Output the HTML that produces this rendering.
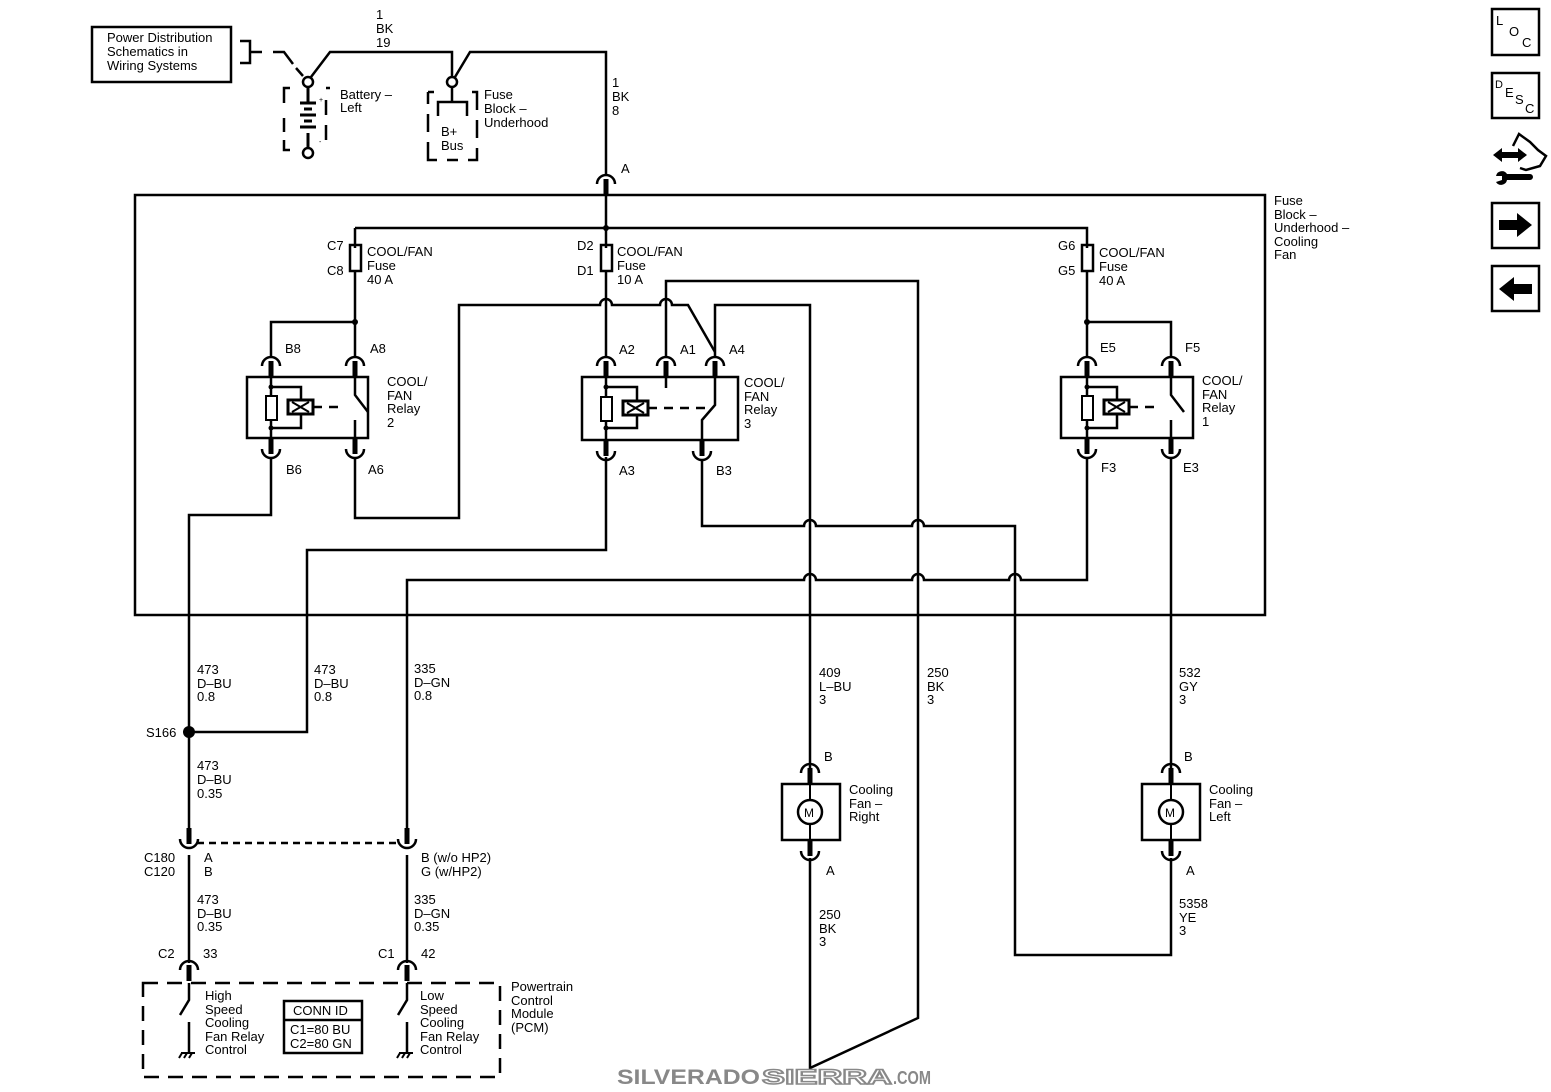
<!DOCTYPE html>
<html><head><meta charset="utf-8"><style>
html,body{margin:0;padding:0;background:#fff}
svg{display:block}
text{font-family:"Liberation Sans",Arial,sans-serif;font-size:13px;fill:#000}
</style></head><body>
<svg width="1551" height="1092" viewBox="0 0 1551 1092" xmlns="http://www.w3.org/2000/svg">
<defs>
<g id="t"><path d="M-9,8 A9,9 0 0 1 9,8" fill="none" stroke="#000" stroke-width="2.5"/><rect x="-2.5" y="3" width="5" height="16" fill="#000"/></g>
<g id="b"><path d="M-9,-8 A9,9 0 0 0 9,-8" fill="none" stroke="#000" stroke-width="2.5"/><rect x="-2.5" y="-19" width="5" height="16" fill="#000"/></g>
<g id="coil"><rect x="0" y="0" width="25" height="14" fill="#fff" stroke="#000" stroke-width="3"/><path d="M4,2 L21,12 M4,12 L21,2" stroke="#000" stroke-width="2"/></g>
<g id="gnd"><path d="M-6,0 H8 M-5,0 L-8,5 M0,0 L-3,5 M5,0 L2,5" stroke="#000" stroke-width="2" fill="none"/></g>
</defs>
<g fill="none" stroke="#000" stroke-width="2.5">
<rect x="92" y="27" width="139" height="55"/>
<path d="M240,41 H250 V63 H240 M250,52 H262"/>
<path d="M273,52 H284 L293,64" />
<circle cx="308" cy="82" r="5"/>
<path d="M303,76 L296,68"/>
<path d="M311,77 L330,52 H452 V77"/>
<circle cx="452" cy="82" r="5"/>
<path d="M455,77 L470,52 H606 V175"/>
<path d="M308,87 V103 M300,103 H316 M304,109 H312 M300,115 H316 M304,121 H312 M300,127 H316 M308,133 V148" stroke-width="3"/>
<circle cx="308" cy="153" r="5"/>
<path d="M284,103 V88 H290 M284,118 V132 M284,140 V150 H290 M326,88 H330 M326,100 V115 M326,125 V140" stroke-width="2.5"/>
<path d="M452,87 V102 M438,116 V102 H467 V116" />
<path d="M428,92 V104 M428,114 V132 M428,142 V160 H437 M447,160 H458 M468,160 H477 V148 M477,138 V120 M477,110 V92 H472 M428,92 H434"/>
<rect x="135" y="195" width="1130" height="420"/>
<path d="M606,195 V248 M355,228 H1087 V248 M355,228 V248"/>
<rect x="350" y="245" width="11" height="26"/>
<rect x="601" y="245" width="11" height="26"/>
<rect x="1082" y="245" width="11" height="26"/>
<path d="M355,271 V358 M271,358 V322 H355"/>
<path d="M1087,271 V358 M1171,358 V322 H1087"/>
<path d="M606,271 V358"/>
<rect x="247" y="377" width="121" height="61"/>
<rect x="582" y="377" width="156" height="63"/>
<rect x="1061" y="377" width="132" height="61"/>
<path d="M271,377 V438 M271,387 H301 V428 H271"/>
<path d="M313,407 H345" stroke-dasharray="9,7"/>
<path d="M355,377 V395 L368,412 M355,420 V438"/>
<path d="M606,377 V440 M606,387 H637 V428 H606"/>
<path d="M648,408 H705" stroke-dasharray="9,7"/>
<path d="M715,377 V405 L702,420 V440 M666,377 V388"/>
<path d="M1087,377 V438 M1087,387 H1117 V428 H1087"/>
<path d="M1129,407 H1160" stroke-dasharray="9,7"/>
<path d="M1171,377 V395 L1184,412 M1171,420 V438"/>
<path d="M271,457 V515 H189 V840"/>
<path d="M355,457 V518 H459 V305 H600 A6,6 0 0 1 612,305 H660 A6,6 0 0 1 672,305 H688 L715,352"/>
<path d="M666,358 V281 H918 V1018 L810,1068 V858"/>
<path d="M715,358 V305 H810 V768"/>
<path d="M606,457 V550 H307 V732 H189"/>
<path d="M702,459 V526 H804 A6,6 0 0 1 816,526 H912 A6,6 0 0 1 924,526 H1015 V955 H1171 V858"/>
<path d="M1087,457 V580 H1021 A6,6 0 0 0 1009,580 H924 A6,6 0 0 0 912,580 H816 A6,6 0 0 0 804,580 H407 V840"/>
<path d="M1171,457 V768"/>
<rect x="782" y="784" width="58" height="56"/>
<rect x="1142" y="784" width="58" height="56"/>
<path d="M810,784 V800 M810,824 V840 M1171,784 V800 M1171,824 V840" stroke-width="2"/>
<circle cx="810" cy="812" r="12" fill="#fff"/>
<circle cx="1171" cy="812" r="12" fill="#fff"/>
<path d="M197,843 H399" stroke-dasharray="7,5"/>
<path d="M189,855 V963 M407,855 V963"/>
<rect x="143" y="983" width="357" height="94" stroke-dasharray="15,9"/>
<path d="M189,983 V1000 L180,1015 M189,1022 V1052"/>
<path d="M407,983 V1000 L398,1015 M407,1022 V1052"/>
<rect x="284" y="1001" width="78" height="52"/>
<path d="M284,1020 H362"/>
<rect x="1492" y="9" width="47" height="46"/>
<rect x="1492" y="73" width="47" height="45"/>
<rect x="1492" y="203" width="47" height="45"/>
<rect x="1492" y="266" width="47" height="45"/>
</g>
<g fill="#000">
<circle cx="606" cy="228" r="3"/><circle cx="355" cy="322" r="3"/><circle cx="1087" cy="322" r="3"/>
<circle cx="271" cy="387" r="2.5"/><circle cx="271" cy="428" r="2.5"/>
<circle cx="606" cy="387" r="2.5"/><circle cx="606" cy="428" r="2.5"/>
<circle cx="1087" cy="387" r="2.5"/><circle cx="1087" cy="428" r="2.5"/>
<circle cx="189" cy="732" r="6"/>
<rect x="266" y="396" width="11" height="24" fill="#fff" stroke="#000" stroke-width="2"/>
<rect x="601" y="397" width="11" height="24" fill="#fff" stroke="#000" stroke-width="2"/>
<rect x="1082" y="396" width="11" height="24" fill="#fff" stroke="#000" stroke-width="2"/>
<use href="#coil" x="288" y="400"/><use href="#coil" x="623" y="401"/><use href="#coil" x="1104" y="400"/>
<use href="#t" x="606" y="176"/>
<use href="#t" x="271" y="358"/><use href="#t" x="355" y="358"/>
<use href="#t" x="606" y="358"/><use href="#t" x="666" y="358"/><use href="#t" x="715" y="358"/>
<use href="#t" x="1087" y="358"/><use href="#t" x="1171" y="358"/>
<use href="#b" x="271" y="457"/><use href="#b" x="355" y="457"/>
<use href="#b" x="606" y="459"/><use href="#b" x="702" y="459"/>
<use href="#b" x="1087" y="457"/><use href="#b" x="1171" y="457"/>
<use href="#t" x="810" y="765"/><use href="#t" x="1171" y="765"/>
<use href="#b" x="810" y="859"/><use href="#b" x="1171" y="859"/>
<use href="#b" x="189" y="847"/><use href="#b" x="407" y="847"/>
<use href="#t" x="189" y="962"/><use href="#t" x="407" y="962"/>
<use href="#gnd" x="187" y="1053"/><use href="#gnd" x="405" y="1053"/>
<path d="M1499,220 H1517 V213 L1532,225 L1517,237 V230 H1499 Z"/>
<path d="M1532,284 H1514 V277 L1499,289 L1514,301 V294 H1532 Z"/>
<path d="M1493,155 L1502,148 V152 H1518 V148 L1527,155 L1518,162 V158 H1502 V162 Z"/>
<path d="M1496,176 A6,6 0 0 1 1507,174 H1530 A3,3 0 0 1 1530,180 H1507 A6,6 0 0 1 1496,182 L1502,180 V176 Z"/>
<path d="M1513,146 L1519,134 L1530,142 L1538,150 L1546,156 L1540,166 L1526,170 L1520,168" fill="none" stroke="#000" stroke-width="2.5"/>
</g>
<text x="804" y="817" style="font-size:12px">M</text><text x="1165" y="817" style="font-size:12px">M</text>
<text x="107" y="42">Power Distribution</text><text x="107" y="56">Schematics in</text><text x="107" y="70">Wiring Systems</text>
<text x="376" y="19">1</text><text x="376" y="33">BK</text><text x="376" y="47">19</text>
<text x="612" y="87">1</text><text x="612" y="101">BK</text><text x="612" y="115">8</text>
<text x="340" y="99">Battery –</text><text x="340" y="112">Left</text>
<text x="319" y="102" style="font-size:7px">+</text><text x="319" y="144" style="font-size:7px">-</text>
<text x="484" y="99">Fuse</text><text x="484" y="113">Block –</text><text x="484" y="127">Underhood</text>
<text x="441" y="136">B+</text><text x="441" y="150">Bus</text>
<text x="621" y="173">A</text>
<text x="1274" y="205">Fuse</text><text x="1274" y="219">Block –</text><text x="1274" y="232">Underhood –</text><text x="1274" y="246">Cooling</text><text x="1274" y="259">Fan</text>
<text x="327" y="250">C7</text><text x="327" y="275">C8</text>
<text x="367" y="256">COOL/FAN</text><text x="367" y="270">Fuse</text><text x="367" y="284">40 A</text>
<text x="577" y="250">D2</text><text x="577" y="275">D1</text>
<text x="617" y="256">COOL/FAN</text><text x="617" y="270">Fuse</text><text x="617" y="284">10 A</text>
<text x="1058" y="250">G6</text><text x="1058" y="275">G5</text>
<text x="1099" y="257">COOL/FAN</text><text x="1099" y="271">Fuse</text><text x="1099" y="285">40 A</text>
<text x="285" y="353">B8</text><text x="370" y="353">A8</text>
<text x="619" y="354">A2</text><text x="680" y="354">A1</text><text x="729" y="354">A4</text>
<text x="1100" y="352">E5</text><text x="1185" y="352">F5</text>
<text x="387" y="386">COOL/</text><text x="387" y="400">FAN</text><text x="387" y="413">Relay</text><text x="387" y="427">2</text>
<text x="744" y="387">COOL/</text><text x="744" y="401">FAN</text><text x="744" y="414">Relay</text><text x="744" y="428">3</text>
<text x="1202" y="385">COOL/</text><text x="1202" y="399">FAN</text><text x="1202" y="412">Relay</text><text x="1202" y="426">1</text>
<text x="286" y="474">B6</text><text x="368" y="474">A6</text>
<text x="619" y="475">A3</text><text x="716" y="475">B3</text>
<text x="1101" y="472">F3</text><text x="1183" y="472">E3</text>
<text x="197" y="674">473</text><text x="197" y="688">D–BU</text><text x="197" y="701">0.8</text>
<text x="314" y="674">473</text><text x="314" y="688">D–BU</text><text x="314" y="701">0.8</text>
<text x="414" y="673">335</text><text x="414" y="687">D–GN</text><text x="414" y="700">0.8</text>
<text x="146" y="737">S166</text>
<text x="197" y="770">473</text><text x="197" y="784">D–BU</text><text x="197" y="798">0.35</text>
<text x="819" y="677">409</text><text x="819" y="691">L–BU</text><text x="819" y="704">3</text>
<text x="927" y="677">250</text><text x="927" y="691">BK</text><text x="927" y="704">3</text>
<text x="1179" y="677">532</text><text x="1179" y="691">GY</text><text x="1179" y="704">3</text>
<text x="824" y="761">B</text><text x="1184" y="761">B</text>
<text x="849" y="794">Cooling</text><text x="849" y="808">Fan –</text><text x="849" y="821">Right</text>
<text x="1209" y="794">Cooling</text><text x="1209" y="808">Fan –</text><text x="1209" y="821">Left</text>
<text x="826" y="875">A</text><text x="1186" y="875">A</text>
<text x="819" y="919">250</text><text x="819" y="933">BK</text><text x="819" y="946">3</text>
<text x="1179" y="908">5358</text><text x="1179" y="922">YE</text><text x="1179" y="935">3</text>
<text x="144" y="862">C180</text><text x="144" y="876">C120</text>
<text x="204" y="862">A</text><text x="204" y="876">B</text>
<text x="421" y="862">B (w/o HP2)</text><text x="421" y="876">G (w/HP2)</text>
<text x="197" y="904">473</text><text x="197" y="918">D–BU</text><text x="197" y="931">0.35</text>
<text x="414" y="904">335</text><text x="414" y="918">D–GN</text><text x="414" y="931">0.35</text>
<text x="158" y="958">C2</text><text x="203" y="958">33</text>
<text x="378" y="958">C1</text><text x="421" y="958">42</text>
<text x="205" y="1000">High</text><text x="205" y="1014">Speed</text><text x="205" y="1027">Cooling</text><text x="205" y="1041">Fan Relay</text><text x="205" y="1054">Control</text>
<text x="420" y="1000">Low</text><text x="420" y="1014">Speed</text><text x="420" y="1027">Cooling</text><text x="420" y="1041">Fan Relay</text><text x="420" y="1054">Control</text>
<text x="293" y="1015">CONN ID</text><text x="290" y="1034">C1=80 BU</text><text x="290" y="1048">C2=80 GN</text>
<text x="511" y="991">Powertrain</text><text x="511" y="1005">Control</text><text x="511" y="1018">Module</text><text x="511" y="1032">(PCM)</text>
<text x="1496" y="25">L</text><text x="1509" y="36">O</text><text x="1522" y="47">C</text>
<text x="1495" y="88" style="font-size:11px">D</text><text x="1505" y="97">E</text><text x="1515" y="104">S</text><text x="1525" y="113">C</text>
<text x="617" y="1084" textLength="143" lengthAdjust="spacingAndGlyphs" style="font-size:21px;font-weight:bold;fill:#888">SILVERADO</text>
<text x="762" y="1084" textLength="130" lengthAdjust="spacingAndGlyphs" style="font-size:21px;font-weight:bold;fill:#fff;stroke:#888;stroke-width:1.5">SIERRA</text>
<text x="893" y="1084" textLength="38" lengthAdjust="spacingAndGlyphs" style="font-size:18px;font-weight:bold;fill:#888">.COM</text>
</svg>
</body></html>
